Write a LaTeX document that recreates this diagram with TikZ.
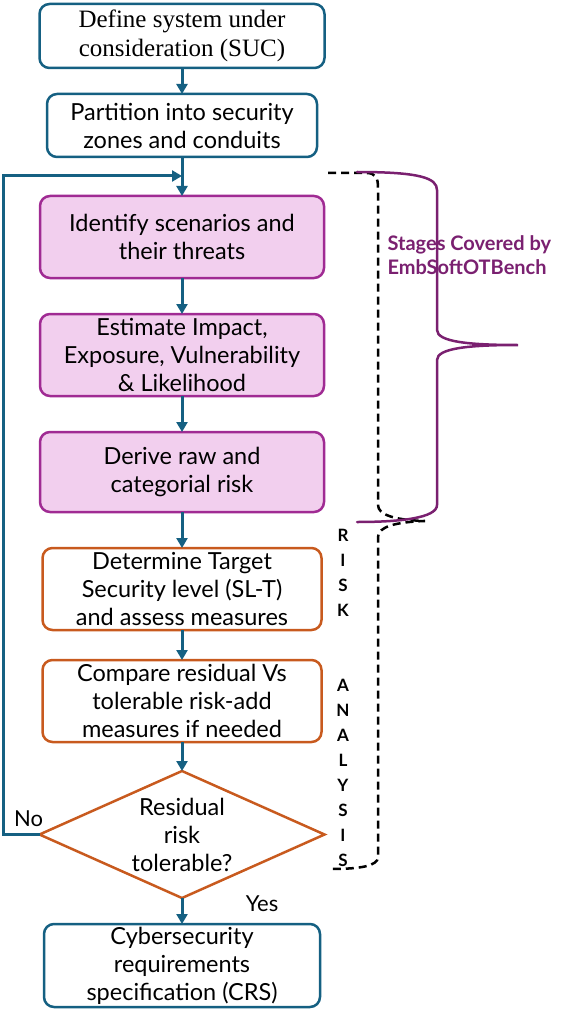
\documentclass[tikz,border=0pt]{standalone}
\usepackage{fontspec}
\setmainfont{Lato}
\newfontfamily\sucfont{Liberation Serif}
\usetikzlibrary{positioning,shapes.geometric,arrows.meta}
\definecolor{flowblue}{RGB}{21,96,130}
\definecolor{stagefill}{RGB}{242,207,238}
\definecolor{stagedraw}{RGB}{160,43,147}
\definecolor{riskorange}{RGB}{200,90,30}
\definecolor{benchpurple}{RGB}{122,32,112}

\begin{document}
\begin{tikzpicture}[x=1pt,y=-1pt,>={Triangle[length=10pt,width=11pt]},
	node distance=36pt,font=\fontsize{23.5}{28}\selectfont,
	base box/.style={rectangle,rounded corners=10pt,line width=2.5pt,align=center,inner sep=0pt,outer sep=0pt,minimum height=82pt},
	blue box/.style={base box,draw=flowblue,minimum width=270pt},
	stage box/.style={base box,draw=stagedraw,fill=stagefill,minimum width=284pt},
	risk box/.style={base box,draw=riskorange,minimum width=279pt},
	decision/.style={diamond,draw=riskorange,line width=2.5pt,align=center,inner sep=0pt,outer sep=0pt,aspect=2.25,minimum width=285pt,minimum height=127pt},
	flow/.style={->,draw=flowblue,line width=3pt},
	brace line/.style={line width=2.5pt,line cap=round}]
	\useasboundingbox (0,0) rectangle (568,1024);
	% main flow
	\node[blue box,minimum width=285pt,minimum height=64pt,font=\sucfont\fontsize{25}{29}\selectfont] (suc) at (182,36) {Define system under\\consideration (SUC)};
	\node[blue box,minimum height=63pt,below=26pt of suc] (zones) {Partition into security\\zones and conduits};
	\node[stage box,below=39pt of zones] (threats) {Identify scenarios and\\their threats};
	\node[stage box,below=of threats] (impact) {Estimate Impact,\\Exposure, Vulnerability\\\& Likelihood};
	\node[stage box,minimum height=80pt,below=of impact] (rawrisk) {Derive raw and\\categorial risk};
	\node[risk box,below=of rawrisk] (target) {Determine Target\\Security level (SL-T)\\and assess measures};
	\node[risk box,below=30pt of target] (compare) {Compare residual Vs\\tolerable risk-add\\measures if needed};
	\node[decision,below=29pt of compare] (tolerable) {Residual\\risk\\tolerable?};
	\node[blue box,minimum width=276pt,minimum height=83pt,below=26pt of tolerable] (crs) {Cybersecurity\\requirements\\specification (CRS)};
	\coordinate[below=19pt of zones] (join);
	\draw[flow] (suc) -- (zones);
	\draw[flow] (zones) -- (threats);
	\draw[flow] (threats) -- (impact);
	\draw[flow] (impact) -- (rawrisk);
	\draw[flow] (rawrisk) -- (target);
	\draw[flow] (target) -- (compare);
	\draw[flow] (compare) -- (tolerable);
	\draw[flow] (tolerable) -- node[pos=0.2,right=59pt,text=black,font=\fontsize{22}{26}\selectfont] {Yes} (crs);
	\draw[flow] (tolerable.west) -- node[pos=0.3,above=3pt,text=black,font=\fontsize{22}{26}\selectfont] {No} ++(-36,0) |- (join);
	% braces
	\draw[brace line,dash pattern=on 8pt off 5pt,line cap=butt] (328,173) -- (366,173)
		.. controls (376,173) and (378,178) .. (378,188) -- (378,505)
		.. controls (378,515) and (395,520) .. (425,521)
		.. controls (395,522) and (378,527) .. (378,537) -- (378,857)
		.. controls (378,866) and (360,869) .. (330,869);
	\draw[brace line,draw=benchpurple] (357,172)
		.. controls (420,172) and (437,178) .. (437,190) -- (437,330)
		.. controls (437,342) and (470,345) .. (518,345)
		.. controls (470,345) and (437,348) .. (437,360) -- (437,505)
		.. controls (437,518) and (400,522) .. (357,522);
	\node[anchor=west,align=left,text=benchpurple,font=\bfseries\fontsize{20}{24}\selectfont] (bench) at (384,255) {Stages Covered by\\EmbSoftOTBench};
	\node[align=center,font=\bfseries\fontsize{17}{25}\selectfont] (analysis) at (343,698) {R\\I\\S\\K\\[50pt]A\\N\\A\\L\\Y\\S\\I\\S};
\end{tikzpicture}
\end{document}
